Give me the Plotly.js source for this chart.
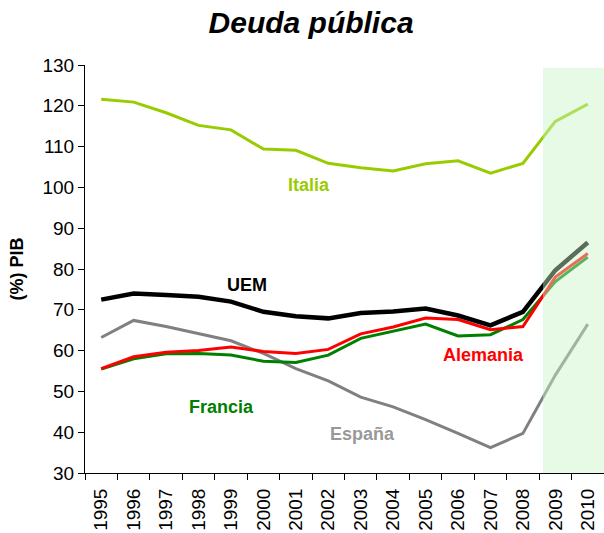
<!DOCTYPE html>
<html><head><meta charset="utf-8">
<script src="https://cdn.plot.ly/plotly-3.0.1.min.js"></script>
<style>html,body{margin:0;padding:0;background:#fff}#c{width:604px;height:533px}</style>
</head><body><div id="c"></div>
<script>
const years = ['1995','1996','1997','1998','1999','2000','2001','2002','2003','2004','2005','2006','2007','2008','2009','2010'];
const italia   = [121.6,120.9,118.3,115.2,114.1,109.4,109.1,105.9,104.8,104.0,105.8,106.5,103.5,105.9,116.2,120.4];
const uem      = [72.5,74.0,73.6,73.2,72.0,69.5,68.4,67.9,69.2,69.6,70.3,68.6,66.2,69.5,79.7,86.5];
const alemania = [55.6,58.5,59.6,60.0,60.9,59.8,59.3,60.3,64.1,65.8,68.0,67.6,65.1,65.9,78.0,83.8];
const francia  = [55.5,58.0,59.2,59.3,58.9,57.4,57.1,58.9,63.0,64.8,66.5,63.6,63.9,67.6,76.9,82.9];
const espana   = [63.2,67.4,65.9,64.1,62.4,59.3,55.6,52.6,48.6,46.2,43.1,39.7,36.2,39.7,54.0,66.5];
const seriesNames = ['Italia','UEM','Alemania','Francia','España'];

const font = 'Arial, "Liberation Sans", sans-serif';
const mk = (y, color, w, name) => ({x: years, y: y, type: 'scatter', mode: 'lines', name: name,
  line: {color: color, width: w}, hoverinfo: 'skip'});
const data = [
  mk(espana, '#808080', 3, seriesNames[4]),
  mk(francia, '#008000', 3, seriesNames[3]),
  mk(alemania, '#ff0000', 3, seriesNames[2]),
  mk(uem, '#000000', 4.5, seriesNames[1]),
  mk(italia, '#99cc00', 3, seriesNames[0])
];
const lab = (text, x, y, color) => ({text: '<b>' + text + '</b>', x: x, y: y, xref: 'x', yref: 'y',
  showarrow: false, font: {family: font, size: 18, color: color}});
const layout = {
  width: 604, height: 533,
  margin: {l: 85, r: 0, t: 65, b: 60},
  paper_bgcolor: '#fff', plot_bgcolor: '#fff',
  showlegend: false,
  title: {text: '<b><i>Deuda pública</i></b>', x: 0.515, xanchor: 'center', y: 0.958, yanchor: 'middle',
    font: {family: font, size: 30, color: '#000'}},
  xaxis: {type: 'category', range: [-0.5, 15.5], tickson: 'boundaries', ticks: 'outside', ticklen: 6,
    tickcolor: '#000', showline: true, linecolor: '#000', linewidth: 1, showgrid: false, zeroline: false,
    tickangle: -90, ticklabelstandoff: 7, tickfont: {family: font, size: 19, color: '#000'}},
  yaxis: {range: [30, 130], dtick: 10, ticks: 'outside', ticklen: 6, tickcolor: '#000', showline: true,
    linecolor: '#000', linewidth: 1, showgrid: false, zeroline: false,
    tickfont: {family: font, size: 19, color: '#000'},
    title: {text: '<b>(%) PIB</b>', font: {family: font, size: 18, color: '#000'}, standoff: 14}},
  shapes: [{type: 'rect', xref: 'x', yref: 'y', x0: 13.62, x1: 15.5, y0: 30, y1: 129.3,
    fillcolor: '#c8f5c8', opacity: 0.45, line: {width: 0}, layer: 'above'}],
  annotations: [
    lab('Italia', 6.4, 100.7, '#99cc00'),
    lab('UEM', 4.5, 76.2, '#000000'),
    lab('Alemania', 11.8, 58.9, '#ff0000'),
    lab('Francia', 3.7, 46.1, '#008000'),
    lab('España', 8.05, 39.5, '#999999')
  ]
};
Plotly.newPlot('c', data, layout, {staticPlot: true, displayModeBar: false});
</script></body></html>
